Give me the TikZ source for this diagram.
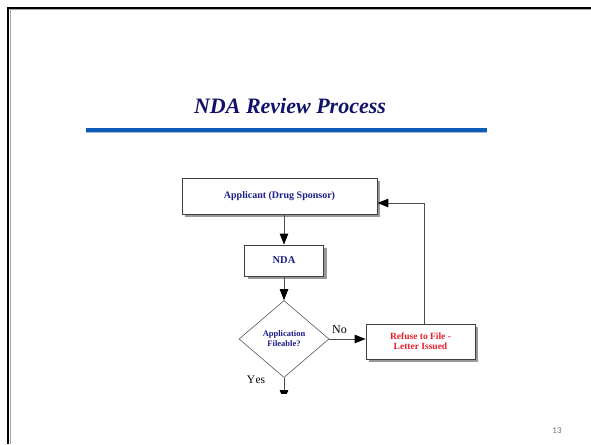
\documentclass[tikz,border=0pt]{standalone}
\usepackage{fontspec}
\setmainfont{Liberation Serif}
\newfontfamily\pagenumfont{Carlito}
\usetikzlibrary{arrows.meta,shapes.geometric,shadows}
\definecolor{titlenavy}{HTML}{12126A}
\definecolor{boxnavy}{HTML}{1C1C8E}
\definecolor{rulebl}{HTML}{0D5BB5}
\definecolor{rulelt}{HTML}{9DB7D8}
\definecolor{refred}{HTML}{E51F2B}
\tikzset{
  procbox/.style={rectangle, draw=black!75, line width=0.8pt, fill=white,
    inner sep=0pt, font=\fontsize{9.5}{10}\selectfont\bfseries, text=boxnavy,
    align=center,
    general shadow={fill=black!40, shadow xshift=3pt, shadow yshift=-3pt}},
  decbox/.style={diamond, draw=black!65, line width=0.6pt, fill=white,
    inner sep=0pt, minimum width=90pt, minimum height=77pt,
    font=\fontsize{8.5}{10}\selectfont\bfseries, text=boxnavy, align=center},
  conn/.style={draw=black!70, line width=0.9pt,
    -{Triangle[length=11pt,width=8.5pt,color=black]}},
  lbl/.style={text=black, inner sep=0pt}
}
\begin{document}
\begin{tikzpicture}[x=1pt,y=-1pt]
\useasboundingbox (0,0) rectangle (591,444);
\fill[white] (0,0) rectangle (591,444);

% slide frame (top and left edges)
\draw[black!35, line width=1pt] (10,444) -- (10,10) -- (591,10);
\draw[black, line width=2.2pt] (8,444) -- (8,8) -- (591,8);

% title and rule
\node[font=\fontsize{22}{26}\selectfont\bfseries\itshape, text=titlenavy, inner sep=0pt]
  (title) at (290,105.5) {NDA Review Process};
\draw[rulebl, line width=4pt] (86,130) -- (487,130);
\draw[rulelt, line width=0.8pt] (86,132.6) -- (487,132.6);

% flowchart nodes
\node[procbox, minimum width=195pt, minimum height=36pt,
  font=\fontsize{10}{12}\selectfont\bfseries] (app) at (279.5,196)
  {Applicant (Drug Sponsor)};
\node[procbox, minimum width=79pt, minimum height=31pt,
  font=\fontsize{10.5}{12}\selectfont\bfseries] (nda) at (284,260.5) {NDA};
\node[decbox] (dec) at (284,339) {Application\\Fileable?};
\node[procbox, minimum width=109pt, minimum height=35pt, text=refred] (ref) at (420.5,341.5)
  {Refuse to File -\\Letter Issued};

% connectors
\draw[conn] (app.south -| nda.north) -- (nda.north);
\draw[conn] (nda.south) -- (dec.north);
\draw[conn] (dec.east) -- (dec.east -| ref.west);
\draw[conn] ([xshift=3.5pt]ref.north) |- ([yshift=-7pt]app.east);

% "Yes" branch leaves the visible area
\coordinate (yesend) at (284,401);
\begin{scope}
  \clip (200,370) rectangle (380,393);
  \draw[conn] (dec.south) -- (yesend);
\end{scope}

% branch labels
\node[lbl, font=\fontsize{12}{14}\selectfont] (nolbl) at (339.5,330) {No};
\node[lbl, font=\fontsize{11.5}{14}\selectfont] (yeslbl) at (256,380) {Y\kern0.5pt es};

% page number
\node[font=\pagenumfont\fontsize{9}{10}\selectfont, text=black!55, inner sep=0pt]
  (pnum) at (557,431) {13};
\end{tikzpicture}
\end{document}
